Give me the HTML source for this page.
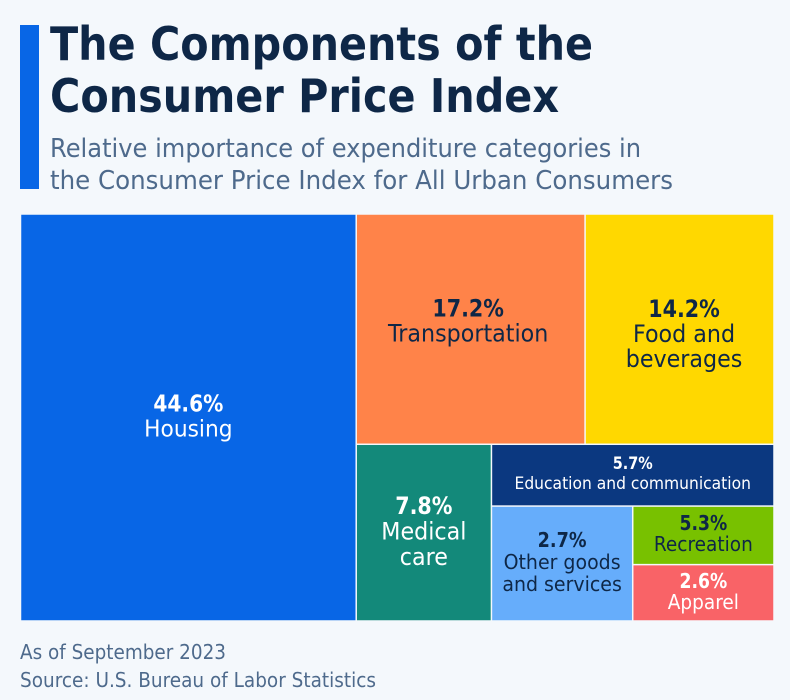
<!DOCTYPE html>
<html lang="en">
<head>
<meta charset="utf-8">
<title>The Components of the Consumer Price Index</title>
<style>
html,body{margin:0;padding:0;width:790px;height:700px;overflow:hidden;background:#f4f8fc}
svg{display:block;font-family:"DejaVu Sans","Liberation Sans",sans-serif}
</style>
</head>
<body>
<svg id="chart" width="790" height="700" viewBox="0 0 790 700" xmlns="http://www.w3.org/2000/svg">
  <rect x="0" y="0" width="790" height="700" fill="#f4f8fc"/>
  <rect x="20" y="25" width="19" height="164" fill="#0866e6"/>
  <text x="50" y="60" font-size="46" font-weight="700" fill="#0e2747" textLength="543" lengthAdjust="spacingAndGlyphs">The Components of the</text>
  <text x="50" y="112" font-size="46" font-weight="700" fill="#0e2747" textLength="509" lengthAdjust="spacingAndGlyphs">Consumer Price Index</text>
  <text x="50" y="157" font-size="26" fill="#4e6a8c" textLength="591" lengthAdjust="spacingAndGlyphs">Relative importance of expenditure categories in</text>
  <text x="50" y="189" font-size="26" fill="#4e6a8c" textLength="623" lengthAdjust="spacingAndGlyphs">the Consumer Price Index for All Urban Consumers</text>
  <g id="tiles"></g>
  <text x="20" y="659" font-size="20" fill="#4e6a8c" textLength="206" lengthAdjust="spacingAndGlyphs">As of September 2023</text>
  <text x="20" y="687" font-size="20" fill="#4e6a8c" textLength="356" lengthAdjust="spacingAndGlyphs">Source: U.S. Bureau of Labor Statistics</text>
</svg>
<script>
// Tile weights (tile areas)
const housing = 44.6;
const transportation = 17.2;
const food = 14.2;
const medical = 7.8;
const education = 5.7;
const otherGoods = 5.3;
const recreation = 2.7;
const apparel = 2.6;

// Values as printed on the tiles
const printedValues = ["44.6%", "17.2%", "14.2%", "7.8%", "5.7%", "2.7%", "5.3%", "2.6%"];
const categoryLines = [["Housing"], ["Transportation"], ["Food and", "beverages"], ["Medical", "care"], ["Education and communication"], ["Other goods", "and services"], ["Recreation"], ["Apparel"]];

const NS = "http://www.w3.org/2000/svg";
const plot = { x: 20.5, y: 214, w: 753.5, h: 407 };
const GAP = 1.5;
const CONDENSE = 0.925;
const CONDENSE_BOLD = 0.86;
const DARK = "#0e2747";
const LIGHT = "#ffffff";

const tileLook = [
  { fill: "#0866e6", ink: LIGHT, size: 23.5, step: 25, shift: -2, nudge: 0 },
  { fill: "#ff8349", ink: DARK, size: 24, step: 25, shift: -9, nudge: -2.5 },
  { fill: "#ffd800", ink: DARK, size: 24, step: 25, shift: 4, nudge: 4.5 },
  { fill: "#13897a", ink: LIGHT, size: 24, step: 25.5, shift: -2, nudge: 0 },
  { fill: "#0b3880", ink: LIGHT, size: 16.8, step: 20, shift: -2, nudge: 0 },
  { fill: "#66adfb", ink: DARK, size: 20.5, step: 22, shift: -2, nudge: 0 },
  { fill: "#78c100", ink: DARK, size: 20, step: 21, shift: -2, nudge: 0 },
  { fill: "#f96367", ink: LIGHT, size: 20, step: 21, shift: -1.5, nudge: 0 }
];

// Axis-like helpers: split a box along x or y in proportion to the weights
function splitX(box, a, b) {
  const w = box.w * a / (a + b);
  return [{ x: box.x, y: box.y, w: w, h: box.h }, { x: box.x + w, y: box.y, w: box.w - w, h: box.h }];
}
function splitY(box, a, b) {
  const h = box.h * a / (a + b);
  return [{ x: box.x, y: box.y, w: box.w, h: h }, { x: box.x, y: box.y + h, w: box.w, h: box.h - h }];
}

function layout() {
  const smallRight = recreation + apparel;
  const smallBlock = otherGoods + smallRight;
  const lowerRight = education + smallBlock;
  const lower = medical + lowerRight;
  const top = transportation + food;
  const [housingBox, rest] = splitX(plot, housing, top + lower);
  const [topRow, lowerRow] = splitY(rest, top, lower);
  const [transportBox, foodBox] = splitX(topRow, transportation, food);
  const [medicalBox, lowerRightBox] = splitX(lowerRow, medical, lowerRight);
  const [educationBox, smallBox] = splitY(lowerRightBox, education, smallBlock);
  const [otherBox, rightBox] = splitX(smallBox, otherGoods, smallRight);
  const [recreationBox, apparelBox] = splitY(rightBox, recreation, apparel);
  return [housingBox, transportBox, foodBox, medicalBox, educationBox, otherBox, recreationBox, apparelBox];
}

function addLine(parent, str, cx, y, look, bold) {
  const t = document.createElementNS(NS, "text");
  
  
  t.setAttribute("x", cx);
  t.setAttribute("y", y);
  t.setAttribute("text-anchor", "middle");
  t.setAttribute("font-size", look.size);
  t.setAttribute("font-weight", bold ? "700" : "400");
  t.setAttribute("fill", look.ink);
  t.textContent = str;
  parent.appendChild(t);
  const natural = t.getComputedTextLength();
  if (natural > 0) {
    t.setAttribute("textLength", (natural * (bold ? CONDENSE_BOLD : CONDENSE)).toFixed(1));
    t.setAttribute("lengthAdjust", "spacingAndGlyphs");
  }
}

const tilesGroup = document.getElementById("tiles");
layout().forEach(function (box, i) {
  const look = tileLook[i];
  const g = document.createElementNS(NS, "g");
  
  
  const r = document.createElementNS(NS, "rect");
  
  
  r.setAttribute("x", box.x + GAP / 2);
  r.setAttribute("y", box.y + GAP / 2);
  r.setAttribute("width", Math.max(0, box.w - GAP));
  r.setAttribute("height", Math.max(0, box.h - GAP));
  r.setAttribute("fill", look.fill);
  g.appendChild(r);
  tilesGroup.appendChild(g);

  const cx = box.x + box.w / 2 + look.nudge;
  const lines = categoryLines[i];
  const count = lines.length + 1;
  const firstCentre = box.y + box.h / 2 + look.shift - look.step * (count - 1) / 2;
  const drop = look.size * 0.36;
  addLine(g, printedValues[i], cx, firstCentre + drop, look, true);
  lines.forEach(function (line, k) {
    addLine(g, line, cx, firstCentre + look.step * (k + 1) + drop, look, false);
  });
});
</script>
</body>
</html>
